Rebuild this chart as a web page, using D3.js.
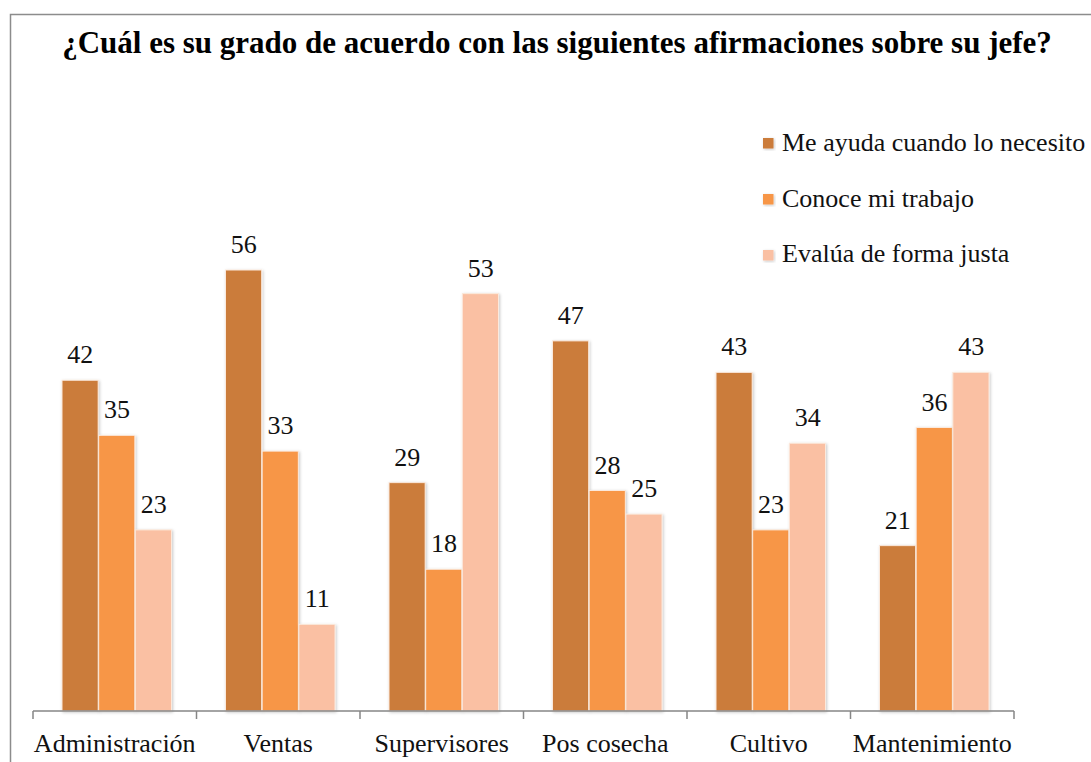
<!DOCTYPE html>
<html><head><meta charset="utf-8">
<script src="https://cdn.jsdelivr.net/npm/d3@7"></script>
<style>body{margin:0;background:#fff}svg{display:block}
text{font-family:"Times New Roman","Liberation Serif",Times,"DejaVu Serif",serif}</style>
</head><body>
<script>
const categories = ["Administración","Ventas","Supervisores","Pos cosecha","Cultivo","Mantenimiento"];
const seriesNames = ["Me ayuda cuando lo necesito","Conoce mi trabajo","Evalúa de forma justa"];
const ayuda = [42,56,29,47,43,21];
const conoce = [35,33,18,28,23,36];
const evalua = [23,11,53,25,34,43];
const colors = ["#CB7B3A","#F79646","#FAC0A3"];
const title = "¿Cuál es su grado de acuerdo con las siguientes afirmaciones sobre su jefe?";

const W=1091,H=762;
const svg=d3.select("body").append("svg").attr("width",W).attr("height",H);
const defs=svg.append("defs");
const f=defs.append("filter").attr("id","sh").attr("x","-20%").attr("y","-20%").attr("width","140%").attr("height","140%");
f.append("feDropShadow").attr("dx",1).attr("dy",1).attr("stdDeviation",1.8).attr("flood-color","#000").attr("flood-opacity",0.22);

svg.append("rect").attr("x",10.5).attr("y",14.5).attr("width",1200).attr("height",1000)
  .attr("fill","none").attr("stroke","#8c8c8c").attr("stroke-width",1.5);

svg.append("text").attr("x",557).attr("y",53).attr("text-anchor","middle")
  .attr("font-weight","bold").attr("font-size",31).text(title);

const x0=d3.scaleBand().domain(categories).range([33,1014]).paddingInner(0).paddingOuter(0);
const x1=d3.scaleBand().domain(d3.range(3)).range([29,139]).padding(0);
const y=d3.scaleLinear().domain([0,60]).range([711,238.5]);

const data=categories.map((c,i)=>({c,vals:[ayuda[i],conoce[i],evalua[i]]}));
const g=svg.append("g");
const grp=g.selectAll("g.cat").data(data).join("g").attr("transform",d=>`translate(${x0(d.c)},0)`);
grp.selectAll("rect").data(d=>d.vals.map((v,k)=>({v,k}))).join("rect")
  .attr("x",d=>x1(d.k)).attr("width",x1.bandwidth()-0.5)
  .attr("y",d=>y(d.v)).attr("height",d=>711-y(d.v))
  .attr("fill",d=>colors[d.k]).attr("stroke","#fbe9dc").attr("stroke-width",1)
  .attr("filter","url(#sh)");
grp.selectAll("text").data(d=>d.vals.map((v,k)=>({v,k}))).join("text")
  .attr("x",d=>x1(d.k)+x1.bandwidth()/2).attr("y",d=>y(d.v)-17)
  .attr("text-anchor","middle").attr("font-size",26).attr("fill","#111").text(d=>d.v);

const ax=svg.append("g").attr("transform","translate(0,711)");
ax.append("line").attr("x1",33).attr("x2",1014).attr("stroke","#868686").attr("stroke-width",1.5);
const bounds=categories.map(c=>x0(c)).concat([x0.range()[1]]);
ax.selectAll("line.t").data(bounds).join("line").attr("class","t")
  .attr("x1",d=>d).attr("x2",d=>d).attr("y1",0).attr("y2",8).attr("stroke","#868686").attr("stroke-width",1.5);
ax.selectAll("text").data(categories).join("text")
  .attr("x",d=>x0(d)+x0.bandwidth()/2).attr("y",40.5).attr("text-anchor","middle")
  .attr("font-size",26).attr("fill","#111").text(d=>d);

const lg=svg.append("g").attr("transform","translate(763,0)");
const sq=[143,199,255], tb=[151,206.5,262];
seriesNames.forEach((s,i)=>{
  lg.append("rect").attr("x",0).attr("y",sq[i]-5).attr("width",10.5).attr("height",10.5).attr("fill",colors[i]).attr("filter","url(#sh)");
  lg.append("text").attr("x",19).attr("y",tb[i]).attr("font-size",26).attr("fill","#111").text(s);
});
</script>
</body></html>
